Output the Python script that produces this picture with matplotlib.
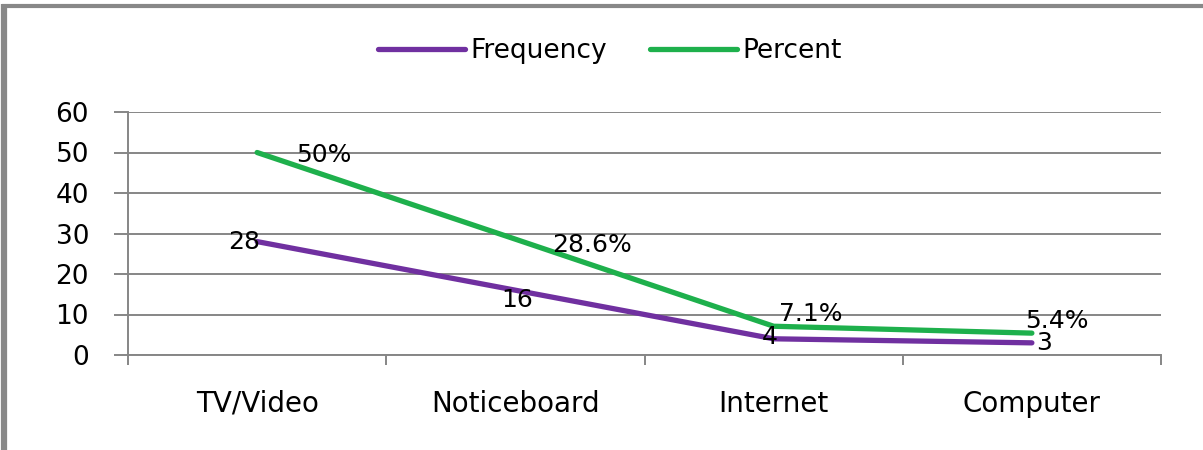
import matplotlib
matplotlib.use("Agg")
import matplotlib.pyplot as plt
from matplotlib.lines import Line2D

# Data
categories = ["TV/Video", "Noticeboard", "Internet", "Computer"]
frequency = [28, 16, 4, 3]
percent = [50, 28.6, 7.1, 5.4]
percent_labels = ["50%", "28.6%", "7.1%", "5.4%"]
frequency_labels = ["28", "16", "4", "3"]
y_ticks = [0, 10, 20, 30, 40, 50, 60]

# Label offsets (points) relative to each data point
freq_offsets = [(-9, 0), (1, -7), (-3, 1), (9, 0)]
pct_offsets = [(48, -2), (55, -4), (27, 9), (18, 9)]

PURPLE = "#7030A0"
GREEN = "#1EB04C"
GRID = "#868686"

W, H, DPI = 1203, 450, 100
fig = plt.figure(figsize=(W / DPI, H / DPI), dpi=DPI)
fig.patch.set_facecolor("white")

# outer frame (left and top edges)
fig.add_artist(Line2D([3.5 / W, 3.5 / W], [0, 1 - 4 / H], transform=fig.transFigure,
                      color="#888888", lw=4.5, solid_capstyle="butt"))
fig.add_artist(Line2D([1.5 / W, 1], [1 - 5.5 / H, 1 - 5.5 / H], transform=fig.transFigure,
                      color="#888888", lw=3.0, solid_capstyle="butt"))

left, right = 128 / W, 1161 / W
bottom, top = (H - 355) / H, (H - 112) / H
ax = fig.add_axes([left, bottom, right - left, top - bottom])

x = [i + 0.5 for i in range(len(categories))]
ax.plot(x, frequency, color=PURPLE, lw=3.8, solid_capstyle="round", label="Frequency", zorder=3)
ax.plot(x, percent, color=GREEN, lw=3.8, solid_capstyle="round", label="Percent", zorder=3)

txt_font = dict(family="DejaVu Sans", fontsize=18, color="black")
for xi, v, s, off in zip(x, frequency, frequency_labels, freq_offsets):
    ax.annotate(s, (xi, v), xytext=off, textcoords="offset points",
                ha="center", va="center", zorder=4, **txt_font)
for xi, v, s, off in zip(x, percent, percent_labels, pct_offsets):
    ax.annotate(s, (xi, v), xytext=off, textcoords="offset points",
                ha="center", va="center", zorder=4, **txt_font)

ax.set_xlim(0, len(categories))
ax.set_ylim(0, 60)
ax.set_yticks(y_ticks)
ax.set_yticklabels([str(t) for t in y_ticks])
ax.yaxis.grid(True, color=GRID, lw=1.4)
ax.set_axisbelow(True)

# category boundaries as major ticks, names on minor ticks
ax.set_xticks(range(len(categories) + 1))
ax.set_xticklabels([])
ax.set_xticks(x, minor=True)
ax.set_xticklabels(categories, minor=True, fontsize=20, family="DejaVu Sans")
ax.tick_params(axis="x", which="major", length=7, width=1.4, color=GRID, direction="out")
ax.tick_params(axis="x", which="minor", length=0, pad=25)
ax.tick_params(axis="y", length=10, width=1.4, color=GRID, pad=18, labelsize=19)
for lab in ax.get_yticklabels():
    lab.set_family("DejaVu Sans")

for side in ["top", "right"]:
    ax.spines[side].set_visible(False)
for side in ["left", "bottom"]:
    ax.spines[side].set_color(GRID)
    ax.spines[side].set_linewidth(1.4)

leg = fig.legend(loc="center", bbox_to_anchor=(610 / W, 1 - 51 / H), ncol=2, frameon=False,
                 prop={"family": "DejaVu Sans", "size": 19}, handlelength=3.3,
                 handletextpad=0.18, columnspacing=1.65)

fig.savefig("out.png", dpi=DPI, facecolor="white")
